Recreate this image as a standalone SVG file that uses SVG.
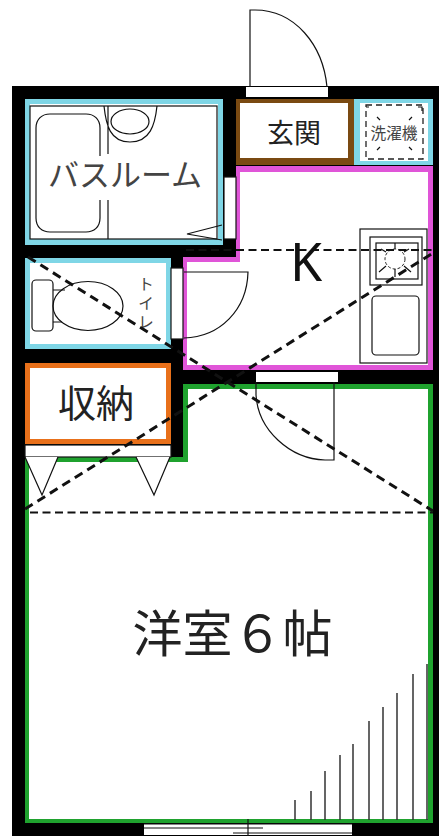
<svg xmlns="http://www.w3.org/2000/svg" width="439" height="836" viewBox="0 0 439 836">
<style>
text{font-family:"Noto Sans CJK JP","Liberation Sans",sans-serif;fill:#222}
.k{font-family:"Noto Sans","Liberation Sans",sans-serif;fill:#111}
.g{fill:#444}
.v{writing-mode:vertical-rl;letter-spacing:3px}
.l{fill:none;stroke:#111;stroke-width:1.2}
.h{fill:none;stroke:#333;stroke-width:1.5}
.w{fill:#fff;stroke:none}
.wl{fill:#fff;stroke:#111;stroke-width:1.2}
.d{fill:none;stroke:#111;stroke-width:3;stroke-dasharray:9 5.7}
.dh{fill:none;stroke:#111;stroke-width:2;stroke-dasharray:8 4.5}
.b{fill:#000}
</style>
<rect width="439" height="836" fill="#fff"/>
<g id="walls">
<path class="b" d="M12 86H439V836H12Z"/>
</g>
<g id="bath"><rect x="25" y="99" width="198" height="146" fill="#7fd6e6"/><rect x="30" y="104" width="188" height="135" class="w"/>
<rect x="30" y="106" width="187" height="133" class="l"/>
<path class="l" d="M100 156V128C100 119 94 114 86 114H50C42 114 36 119 36 128V218C36 227 42 232 50 232H86C94 232 100 227 100 218V200"/>
<path class="l" d="M108 106V154M108 200V239M104 106C106 125 110 142 130 142C150 142 155 125 157 106"/>
<ellipse cx="130" cy="121.500" rx="19" ry="12.500" class="l"/>
<text x="125" y="186" font-size="31" text-anchor="middle" class="g">バスルーム</text></g>
<g id="genkan"><rect x="236" y="99" width="118" height="66" fill="#7a4a12"/><rect x="240" y="103" width="108" height="55" class="w"/>
<text x="294" y="143" font-size="27" text-anchor="middle">玄関</text></g>
<g id="washer"><rect x="354" y="99" width="79" height="66" fill="#7fd6e6"/><rect x="360" y="103" width="68" height="58" class="w"/>
<rect x="366" y="105" width="57" height="54" fill="none" stroke="#222" stroke-width="1.3" stroke-dasharray="6 4"/>
<path d="M377 117l3 3M412 117l-3 3M377 150l3-3M412 150l-3-3M418 107h4v4M366 107h3" class="l"/>
<text x="394" y="139" font-size="15.700" text-anchor="middle" class="g">洗濯機</text></g>
<g id="kitchen"><path d="M236 166H433V370H183V257H236Z" fill="#e055d8"/><path d="M240 172H428V365H187V262H240Z" class="w"/>
<path class="l" d="M184 272H248C247 310 220 337 184 338"/>
<rect x="360" y="229" width="67" height="134" class="l"/>
<rect x="370" y="237" width="52" height="48" class="l"/><rect x="376" y="243" width="42" height="36" class="l"/>
<circle cx="395" cy="259" r="10" fill="none" stroke="#222" stroke-dasharray="3 2"/>
<path class="l" d="M395 243V249M395 269V277M379 272L386 266M411 272L404 266M381 249L386 252M409 249L404 252"/>
<rect x="372" y="296" width="47" height="59" rx="4" class="l"/>
<text x="306" y="281" font-size="52" text-anchor="middle" class="k">K</text></g>
<g id="toilet"><rect x="25" y="258" width="146" height="91" fill="#7fd6e6"/><rect x="30" y="263" width="136" height="81" class="w"/>
<rect x="32" y="280" width="21" height="51" rx="4" class="l"/>
<ellipse cx="88" cy="306" rx="35" ry="24.500" class="l"/>
<path class="l" d="M53 290H65M53 322H62"/>
<text x="146" y="276" font-size="16" class="g v">トイレ</text></g>
<g id="storage"><rect x="25" y="363" width="146" height="81" fill="#e8701a"/><rect x="30" y="368" width="136" height="71" class="w"/>
<text x="96" y="417" font-size="38" text-anchor="middle">収納</text></g>
<g id="room"><path d="M183 384H433V823H25V457H183Z" fill="#1fa22e"/><path d="M188 389H428V819H29V462H188Z" class="w"/>
<rect x="25" y="445" width="146" height="12" class="wl"/>
<path class="wl" d="M25 457L42 495L58 457M136 457L154 495L170 457"/>
<text x="232.500" y="652" font-size="50" text-anchor="middle">洋室６帖</text>
<path class="h" d="M295 820V800M311 820V791M325 820V771M340 820V755M353 820V744M369 820V721M383 820V707M397 820V693M413 820V674M427 820V664"/></g>
<g id="doors">
<rect x="246" y="87" width="82" height="10" class="w"/>
<path class="l" d="M250 87V10H255C295 10 323 45 327 87"/>
<rect x="224" y="177" width="12" height="62" class="wl"/>
<path class="l" d="M222 225L187 234L222 240"/>
<rect x="171" y="268" width="12" height="71" class="wl"/>
<rect x="256" y="372" width="82" height="10" class="w"/>
<path class="l" d="M256 382V395C258 430 290 459 325 460H334V382"/>
<rect x="144" y="824" width="208" height="11" class="w"/>
<path class="l" d="M144 824H352M144 828H263M233 833H352M248 819V836"/>
</g>
<g id="connectors">
<path class="d" d="M28 257L433 511M25 509L433 253"/>
<path class="dh" d="M30 512.500H433M186 250H433"/>
</g>
</svg>
